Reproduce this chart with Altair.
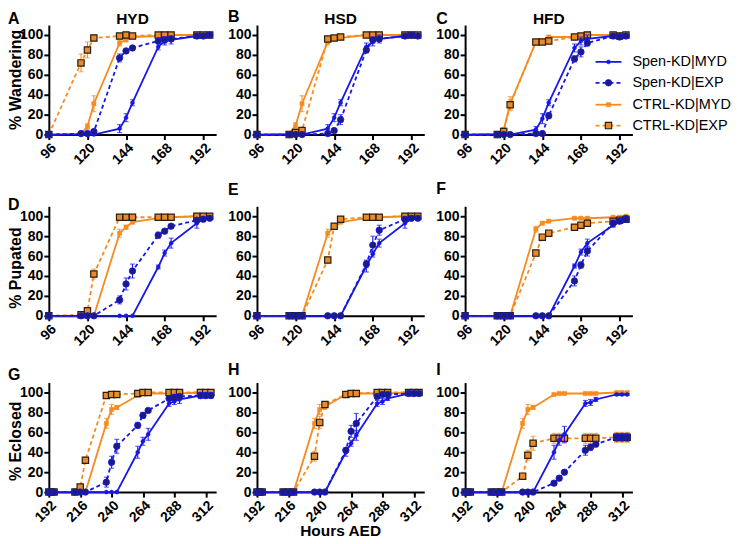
import altair as alt
import pandas as pd

# ---------------- data ----------------
SERIES = ["Spen-KD|MYD", "Spen-KD|EXP", "CTRL-KD|MYD", "CTRL-KD|EXP"]
HOURS_LARVAL = [96, 116, 120, 124, 140, 144, 148, 164, 168, 172, 188, 192, 196]
HOURS_ADULT = [192, 194, 196, 212, 216, 220, 236, 240, 244, 260, 264, 268, 284, 288, 292, 308, 312, 316]
TICKS_LARVAL = [96, 120, 144, 168, 192]
TICKS_ADULT = [192, 216, 240, 264, 288, 312]
Y_TICKS = [0, 20, 40, 60, 80, 100]

# Panel A (HYD wandering)
A_SPEN_MYD = [0, 0, 0, 0, 6, 17, 32, 88, 94, 95, 99, 100, 100]
A_SPEN_MYD_ERR = [0, 0, 0, 0, 4, 4, 3, 3, 4, 4, 1, 1, 0]
A_SPEN_EXP = [0, 1, 1, 3, 77, 84, 87, 94, 95, 96, 99, 99, 100]
A_SPEN_EXP_ERR = [0, 0, 0, 1, 4, 2, 2, 2, 3, 2, 1, 1, 0]
A_CTRL_MYD = [0, 1, 8, 31, 92, 95, 98, 99, 99, 100, 100, 100, 100]
A_CTRL_MYD_ERR = [0, 0, 3, 8, 3, 1, 1, 1, 1, 0, 0, 0, 0]
A_CTRL_EXP = [0, 72, 85, 97, 99, 100, 99, 100, 100, 100, 100, 100, 100]
A_CTRL_EXP_ERR = [0, 9, 8, 3, 1, 0, 1, 0, 0, 0, 0, 0, 0]
# Panel B (HSD wandering)
B_SPEN_MYD = [0, 0, 0, 0, 6, 17, 32, 88, 93, 96, 99, 100, 100]
B_SPEN_MYD_ERR = [0, 0, 0, 0, 4, 4, 3, 4, 4, 4, 1, 0, 0]
B_SPEN_EXP = [0, 0, 0, 0, 1, 4, 15, 85, 95, 96, 99, 100, 99]
B_SPEN_EXP_ERR = [0, 0, 0, 0, 1, 2, 5, 3, 3, 2, 1, 0, 0]
B_CTRL_MYD = [0, 1, 9, 31, 93, 96, 97, 100, 100, 100, 100, 100, 100]
B_CTRL_MYD_ERR = [0, 0, 3, 8, 3, 1, 1, 0, 0, 0, 0, 0, 0]
B_CTRL_EXP = [0, 0, 2, 4, 96, 97, 98, 100, 100, 100, 100, 100, 100]
B_CTRL_EXP_ERR = [0, 0, 1, 1, 1, 1, 1, 0, 0, 0, 0, 0, 0]
# Panel C (HFD wandering)
C_SPEN_MYD = [0, 0, 0, 0, 5, 16, 32, 87, 94, 96, 99, 100, 100]
C_SPEN_MYD_ERR = [0, 0, 0, 0, 3, 5, 3, 4, 4, 4, 1, 1, 0]
C_SPEN_EXP = [0, 0, 0, 0, 1, 1, 19, 76, 83, 92, 99, 98, 99]
C_SPEN_EXP_ERR = [0, 0, 0, 0, 1, 1, 3, 3, 5, 3, 1, 1, 1]
C_CTRL_MYD = [0, 1, 5, 31, 93, 94, 98, 98, 99, 100, 100, 100, 100]
C_CTRL_MYD_ERR = [0, 0, 2, 7, 2, 1, 1, 1, 1, 0, 0, 0, 0]
C_CTRL_EXP = [0, 0, 3, 30, 93, 93, 94, 98, 99, 100, 100, 99, 100]
C_CTRL_EXP_ERR = [0, 0, 1, 5, 1, 1, 1, 1, 1, 0, 0, 0, 0]
# Panel D (HYD pupated)
D_SPEN_MYD = [0, 0, 0, 0, 0, 0, 0, 49, 63, 73, 93, 97, 98]
D_SPEN_MYD_ERR = [0, 0, 0, 0, 0, 0, 0, 2, 3, 5, 5, 2, 1]
D_SPEN_EXP = [0, 0, 0, 0, 16, 32, 45, 81, 85, 90, 96, 97, 98]
D_SPEN_EXP_ERR = [0, 0, 0, 0, 4, 6, 7, 3, 2, 1, 1, 1, 1]
D_CTRL_MYD = [0, 0, 0, 0, 83, 89, 94, 98, 98, 99, 100, 100, 100]
D_CTRL_MYD_ERR = [0, 0, 0, 0, 4, 2, 1, 1, 1, 0, 0, 0, 0]
D_CTRL_EXP = [0, 1, 5, 42, 99, 99, 99, 99, 99, 99, 100, 100, 100]
D_CTRL_EXP_ERR = [0, 1, 2, 5, 1, 1, 1, 1, 1, 1, 0, 0, 0]
# Panel E (HSD pupated)
E_SPEN_MYD = [0, 0, 0, 0, 0, 0, 0, 50, 62, 73, 93, 97, 98]
E_SPEN_MYD_ERR = [0, 0, 0, 0, 0, 0, 0, 6, 3, 4, 5, 1, 1]
E_SPEN_EXP = [0, 0, 0, 0, 0, 0, 0, 52, 71, 86, 97, 98, 98]
E_SPEN_EXP_ERR = [0, 0, 0, 0, 0, 0, 0, 3, 9, 5, 1, 1, 1]
E_CTRL_MYD = [0, 0, 0, 0, 83, 89, 94, 98, 98, 99, 100, 100, 100]
E_CTRL_MYD_ERR = [0, 0, 0, 0, 4, 2, 1, 1, 0, 0, 0, 0, 0]
E_CTRL_EXP = [0, 0, 0, 0, 56, 90, 97, 99, 99, 99, 100, 100, 100]
E_CTRL_EXP_ERR = [0, 0, 0, 0, 3, 2, 1, 1, 1, 1, 0, 0, 0]
# Panel F (HFD pupated)
F_SPEN_MYD = [0, 0, 0, 0, 0, 0, 0, 50, 64, 73, 91, 96, 99]
F_SPEN_MYD_ERR = [0, 0, 0, 0, 0, 0, 0, 2, 3, 4, 2, 1, 1]
F_SPEN_EXP = [0, 0, 0, 0, 0, 0, 0, 35, 51, 65, 93, 95, 97]
F_SPEN_EXP_ERR = [0, 0, 0, 0, 0, 0, 0, 5, 3, 5, 3, 2, 1]
F_CTRL_MYD = [0, 0, 0, 0, 87, 93, 95, 98, 98, 98, 99, 99, 100]
F_CTRL_MYD_ERR = [0, 0, 0, 0, 3, 1, 1, 1, 1, 1, 0, 0, 0]
F_CTRL_EXP = [0, 0, 0, 0, 63, 79, 83, 89, 91, 93, 95, 96, 97]
F_CTRL_EXP_ERR = [0, 0, 0, 0, 2, 2, 1, 2, 1, 1, 1, 1, 1]
# Panel G (HYD eclosed)
G_SPEN_MYD = [0, 0, 0, 0, 0, 0, 0, 0, 0, 40, 51, 58, 89, 91, 93, 97, 97, 97]
G_SPEN_MYD_ERR = [0, 0, 0, 0, 0, 0, 0, 0, 0, 6, 4, 6, 3, 3, 4, 3, 3, 3]
G_SPEN_EXP = [0, 0, 0, 0, 0, 0, 10, 30, 46, 67, 77, 82, 94, 95, 96, 97, 97, 97]
G_SPEN_EXP_ERR = [0, 0, 0, 0, 0, 0, 5, 6, 7, 3, 3, 1, 2, 3, 1, 2, 2, 2]
G_CTRL_MYD = [0, 0, 0, 0, 0, 0, 69, 83, 85, 97, 99, 99, 99, 99, 99, 100, 100, 100]
G_CTRL_MYD_ERR = [0, 0, 0, 0, 0, 0, 5, 5, 2, 1, 1, 1, 1, 1, 1, 1, 1, 1]
G_CTRL_EXP = [0, 0, 0, 0, 5, 32, 97, 98, 98, 99, 100, 100, 100, 100, 100, 100, 100, 100]
G_CTRL_EXP_ERR = [0, 0, 0, 0, 1, 3, 1, 1, 1, 1, 0, 0, 0, 0, 0, 0, 0, 0]
# Panel H (HSD eclosed)
H_SPEN_MYD = [0, 0, 0, 0, 0, 0, 0, 0, 0, 40, 49, 57, 89, 91, 94, 99, 99, 99]
H_SPEN_MYD_ERR = [0, 0, 0, 0, 0, 0, 0, 0, 0, 4, 3, 5, 3, 3, 2, 1, 1, 1]
H_SPEN_EXP = [0, 0, 0, 0, 0, 0, 0, 0, 0, 42, 61, 69, 96, 98, 98, 99, 99, 99]
H_SPEN_EXP_ERR = [0, 0, 0, 0, 0, 0, 0, 0, 0, 2, 6, 10, 2, 1, 1, 1, 1, 1]
H_CTRL_MYD = [0, 0, 0, 0, 0, 0, 69, 83, 86, 98, 99, 99, 99, 99, 99, 100, 100, 100]
H_CTRL_MYD_ERR = [0, 0, 0, 0, 0, 0, 5, 5, 3, 1, 1, 1, 0, 0, 0, 0, 0, 0]
H_CTRL_EXP = [0, 0, 0, 0, 0, 0, 36, 70, 88, 98, 99, 99, 100, 100, 100, 100, 100, 100]
H_CTRL_EXP_ERR = [0, 0, 0, 0, 0, 0, 5, 6, 2, 1, 0, 0, 0, 0, 0, 0, 0, 0]
# Panel I (HFD eclosed)
I_SPEN_MYD = [0, 0, 0, 0, 0, 0, 0, 0, 0, 40, 52, 58, 89, 90, 93, 98, 98, 98]
I_SPEN_MYD_ERR = [0, 0, 0, 0, 0, 0, 0, 0, 0, 7, 5, 8, 3, 3, 2, 1, 1, 1]
I_SPEN_EXP = [0, 0, 0, 0, 0, 0, 0, 0, 0, 9, 14, 20, 42, 45, 48, 55, 55, 55]
I_SPEN_EXP_ERR = [0, 0, 0, 0, 0, 0, 0, 0, 0, 2, 2, 2, 5, 3, 2, 4, 4, 4]
I_CTRL_MYD = [0, 0, 0, 0, 0, 0, 69, 83, 85, 98, 99, 99, 99, 99, 99, 100, 100, 100]
I_CTRL_MYD_ERR = [0, 0, 0, 0, 0, 0, 5, 5, 2, 1, 1, 1, 1, 1, 1, 1, 1, 1]
I_CTRL_EXP = [0, 0, 0, 0, 0, 0, 16, 37, 49, 54, 54, 54, 54, 54, 54, 55, 55, 55]
I_CTRL_EXP_ERR = [0, 0, 0, 0, 0, 0, 2, 5, 7, 5, 5, 5, 5, 5, 5, 5, 5, 5]

# ---------------- styling ----------------
FONT = "Liberation Sans"
BLUE = "#1717e8"
NAVY = "#1c1c80"
ORANGE = "#f68b20"
ORANGE_SQ = "#e98a2c"
DARK = "#2a1e0c"
W, H = 168, 110

STYLE = {
    "Spen-KD|MYD": dict(color=BLUE, dash=None, shape="circle", size=16, fill=BLUE, stroke=BLUE, sw=0.5),
    "Spen-KD|EXP": dict(color=BLUE, dash=[4, 3], shape="circle", size=42, fill=NAVY, stroke=BLUE, sw=0.8),
    "CTRL-KD|MYD": dict(color=ORANGE, dash=None, shape="square", size=18, fill=ORANGE, stroke=ORANGE, sw=0.5),
    "CTRL-KD|EXP": dict(color=ORANGE, dash=[4, 3], shape="square", size=40, fill=ORANGE_SQ, stroke=DARK, sw=1.2),
}
DRAW_ORDER = ["CTRL-KD|MYD", "CTRL-KD|EXP", "Spen-KD|MYD", "Spen-KD|EXP"]
DUMMY = pd.DataFrame({"d": [0]})


def text_mark(text, x, y, size, weight="bold", align="left", baseline="alphabetic", angle=0):
    return alt.Chart(DUMMY).mark_text(
        text=text, font=FONT, fontSize=size, fontWeight=weight, align=align,
        baseline=baseline, angle=angle, color="black"
    ).encode(x=alt.value(x), y=alt.value(y))


def panel(hours, data, xdomain, xticks, letter, letter_xy, title=None, ytitle=None,
          ytitle_y=60, xtitle=None, legend=False):
    xscale = alt.Scale(domain=xdomain, nice=False, zero=False)
    yscale = alt.Scale(domain=[0, 110], nice=False)
    xaxis = alt.Axis(values=xticks, title=None, labelAngle=-45)
    yaxis = alt.Axis(values=Y_TICKS, title=None)
    X = alt.X("t:Q", scale=xscale, axis=xaxis)
    layers = []
    for s in DRAW_ORDER:
        vals, errs = data[s]
        st = STYLE[s]
        df = pd.DataFrame({
            "t": hours, "v": vals,
            "lo": [v - e for v, e in zip(vals, errs)],
            "hi": [v + e for v, e in zip(vals, errs)],
            "e": errs,
        })
        base = alt.Chart(df)
        Y = alt.Y("v:Q", scale=yscale, axis=yaxis)
        line_kw = dict(color=st["color"], strokeWidth=1.8)
        if st["dash"]:
            line_kw["strokeDash"] = st["dash"]
        layers.append(base.mark_line(**line_kw).encode(x=X, y=Y))
        eb = base.transform_filter("datum.e > 0")
        layers.append(eb.mark_rule(color=st["color"], strokeWidth=1.1).encode(
            x=X, y=alt.Y("lo:Q", scale=yscale, axis=yaxis), y2="hi:Q"))
        for fld in ["lo", "hi"]:
            layers.append(eb.mark_tick(color=st["color"], orient="horizontal", size=5, thickness=1.1).encode(
                x=X, y=alt.Y(f"{fld}:Q", scale=yscale, axis=yaxis)))
        layers.append(base.mark_point(
            shape=st["shape"], filled=True, size=st["size"], color=st["fill"],
            stroke=st["stroke"], strokeWidth=st["sw"], opacity=1
        ).encode(x=X, y=Y))

    layers.append(text_mark(letter, letter_xy[0], letter_xy[1], 16))
    if title:
        layers.append(text_mark(title, W / 2, -1, 15.5, align="center"))
    if ytitle:
        layers.append(text_mark(ytitle, -33, ytitle_y, 16, align="center", baseline="middle", angle=270))
    if xtitle:
        layers.append(text_mark(xtitle, W / 2, H + 44, 15.5, align="center"))
    if legend:
        ly = [37, 58, 80, 101]
        for i, s in enumerate(SERIES):
            st = STYLE[s]
            rk = dict(color=st["color"], strokeWidth=1.8)
            if st["dash"]:
                rk["strokeDash"] = st["dash"]
            layers.append(alt.Chart(DUMMY).mark_rule(**rk).encode(
                x=alt.value(131), x2=alt.value(157), y=alt.value(ly[i])))
            layers.append(alt.Chart(DUMMY).mark_point(
                shape=st["shape"], filled=True, size=st["size"], color=st["fill"],
                stroke=st["stroke"], strokeWidth=st["sw"], opacity=1
            ).encode(x=alt.value(144), y=alt.value(ly[i])))
            layers.append(text_mark(s, 168, ly[i], 14.5, weight="normal", baseline="middle"))
    return alt.layer(*layers).properties(width=W, height=H)


def d(sm, sme, se, see, cm, cme, ce, cee):
    return {"Spen-KD|MYD": (sm, sme), "Spen-KD|EXP": (se, see),
            "CTRL-KD|MYD": (cm, cme), "CTRL-KD|EXP": (ce, cee)}


XL = [96, 200]
XA = [192, 320]

pA = panel(HOURS_LARVAL, d(A_SPEN_MYD, A_SPEN_MYD_ERR, A_SPEN_EXP, A_SPEN_EXP_ERR,
                           A_CTRL_MYD, A_CTRL_MYD_ERR, A_CTRL_EXP, A_CTRL_EXP_ERR),
           XL, TICKS_LARVAL, "A", (-41, -1), title="HYD", ytitle="% Wandering", ytitle_y=55)
pB = panel(HOURS_LARVAL, d(B_SPEN_MYD, B_SPEN_MYD_ERR, B_SPEN_EXP, B_SPEN_EXP_ERR,
                           B_CTRL_MYD, B_CTRL_MYD_ERR, B_CTRL_EXP, B_CTRL_EXP_ERR),
           XL, TICKS_LARVAL, "B", (-29, -3), title="HSD")
pC = panel(HOURS_LARVAL, d(C_SPEN_MYD, C_SPEN_MYD_ERR, C_SPEN_EXP, C_SPEN_EXP_ERR,
                           C_CTRL_MYD, C_CTRL_MYD_ERR, C_CTRL_EXP, C_CTRL_EXP_ERR),
           XL, TICKS_LARVAL, "C", (-29, -1), title="HFD", legend=True)
pD = panel(HOURS_LARVAL, d(D_SPEN_MYD, D_SPEN_MYD_ERR, D_SPEN_EXP, D_SPEN_EXP_ERR,
                           D_CTRL_MYD, D_CTRL_MYD_ERR, D_CTRL_EXP, D_CTRL_EXP_ERR),
           XL, TICKS_LARVAL, "D", (-41, 4), ytitle="% Pupated", ytitle_y=62)
pE = panel(HOURS_LARVAL, d(E_SPEN_MYD, E_SPEN_MYD_ERR, E_SPEN_EXP, E_SPEN_EXP_ERR,
                           E_CTRL_MYD, E_CTRL_MYD_ERR, E_CTRL_EXP, E_CTRL_EXP_ERR),
           XL, TICKS_LARVAL, "E", (-29, -11))
pF = panel(HOURS_LARVAL, d(F_SPEN_MYD, F_SPEN_MYD_ERR, F_SPEN_EXP, F_SPEN_EXP_ERR,
                           F_CTRL_MYD, F_CTRL_MYD_ERR, F_CTRL_EXP, F_CTRL_EXP_ERR),
           XL, TICKS_LARVAL, "F", (-29, -12))
pG = panel(HOURS_ADULT, d(G_SPEN_MYD, G_SPEN_MYD_ERR, G_SPEN_EXP, G_SPEN_EXP_ERR,
                          G_CTRL_MYD, G_CTRL_MYD_ERR, G_CTRL_EXP, G_CTRL_EXP_ERR),
           XA, TICKS_ADULT, "G", (-41, -3), ytitle="% Eclosed", ytitle_y=59)
pH = panel(HOURS_ADULT, d(H_SPEN_MYD, H_SPEN_MYD_ERR, H_SPEN_EXP, H_SPEN_EXP_ERR,
                          H_CTRL_MYD, H_CTRL_MYD_ERR, H_CTRL_EXP, H_CTRL_EXP_ERR),
           XA, TICKS_ADULT, "H", (-29, -8), xtitle="Hours AED")
pI = panel(HOURS_ADULT, d(I_SPEN_MYD, I_SPEN_MYD_ERR, I_SPEN_EXP, I_SPEN_EXP_ERR,
                          I_CTRL_MYD, I_CTRL_MYD_ERR, I_CTRL_EXP, I_CTRL_EXP_ERR),
           XA, TICKS_ADULT, "I", (-29, -8))

row1 = alt.hconcat(pA, pB, pC, spacing=41, bounds="flush")
row2 = alt.hconcat(pD, pE, pF, spacing=41, bounds="flush")
row3 = alt.hconcat(pG, pH, pI, spacing=41, bounds="flush")
top = alt.vconcat(row1, row2, spacing=14, bounds="full")
chart = alt.vconcat(top, row3, spacing=13, bounds="full").properties(
    padding=0
).configure_view(stroke=None).configure_axis(
    domainColor="black", domainWidth=2, tickColor="black", tickWidth=2, tickSize=5,
    labelFont=FONT, labelFontSize=14, labelFontWeight="bold", labelColor="black",
    labelPadding=1, grid=False
)

chart.save("out.html", embed_options={"renderer": "svg", "actions": False})
